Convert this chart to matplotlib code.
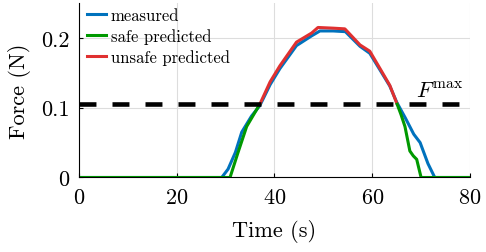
import matplotlib
matplotlib.use("Agg")
import matplotlib.pyplot as plt

plt.rcParams['font.family'] = 'serif'
plt.rcParams['font.serif'] = ['cmr10']
plt.rcParams['mathtext.fontset'] = 'cm'
plt.rcParams['axes.formatter.use_mathtext'] = True

# measured force
t_meas = [0, 29.2, 30.5, 32.0, 33.3, 35.3, 37.0, 39.1, 41.1, 44.5, 47.6, 49.3, 52, 54.5,
          57.5, 59.5, 61.6, 63.6, 65.0, 66.8, 68.5, 69.8, 71.4, 72.8, 80]
f_meas = [0, 0, 0.012, 0.036, 0.065, 0.088, 0.103, 0.133, 0.156, 0.189, 0.203, 0.210, 0.210, 0.209,
          0.188, 0.178, 0.154, 0.131, 0.108, 0.085, 0.062, 0.050, 0.020, 0, 0]

# safe predicted (below F_max)
t_safe1 = [0, 30.9, 32.5, 34.3, 36.4, 37.0]
f_safe1 = [0, 0, 0.035, 0.073, 0.098, 0.105]
t_safe2 = [65.1, 65.9, 66.7, 67.7, 68.4, 69.1, 70.0, 80]
f_safe2 = [0.105, 0.090, 0.073, 0.038, 0.031, 0.026, 0, 0]

# unsafe predicted (above F_max)
t_unsafe = [37.0, 39.1, 41.1, 44.5, 47.6, 48.9, 52.0, 54.4, 57.5, 59.5, 61.6, 63.6, 65.1]
f_unsafe = [0.105, 0.137, 0.160, 0.194, 0.207, 0.215, 0.214, 0.213, 0.190, 0.181, 0.156, 0.132, 0.105]

f_max = 0.105

fig = plt.figure(figsize=(4.86, 2.53), dpi=100)
ax = fig.add_axes([0.1626, 0.2945, 0.8044, 0.6895])

ax.plot(t_meas, f_meas, color='#0072BD', lw=2.2, label='measured')
ax.plot(t_safe1, f_safe1, color='#009900', lw=2.2, label='safe predicted')
ax.plot(t_unsafe, f_unsafe, color='#E03030', lw=2.2, label='unsafe predicted')
ax.plot(t_safe2, f_safe2, color='#009900', lw=2.2)
ax.axhline(f_max, color='black', lw=3.3, dashes=(3.7, 3.5))
ax.text(69.0, f_max + 0.01, r'$F^{\max}$', fontsize=16)

ax.set_xlim(0, 80)
ax.set_ylim(0, 0.25)
ax.set_xticks([0, 20, 40, 60, 80])
ax.set_yticks([0, 0.1, 0.2])
ax.set_yticklabels(['0', '0.1', '0.2'])
ax.tick_params(direction='in', labelsize=16, length=3, width=0.8)
ax.tick_params(axis='y', pad=7)
ax.tick_params(axis='x', pad=7)
ax.grid(True, color='#dddddd', lw=0.8)
ax.set_axisbelow(True)
ax.spines['top'].set_visible(False)
ax.spines['right'].set_visible(False)
ax.set_xlabel('Time (s)', fontsize=16, labelpad=9)
ax.set_ylabel('Force (N)', fontsize=16, labelpad=7)

ax.legend(loc='upper left', frameon=False, fontsize=12, handlelength=1.1,
          handletextpad=0.3, borderaxespad=0.1, labelspacing=0.3,
          bbox_to_anchor=(0.0, 1.02))

fig.savefig('out.png', dpi=100)
